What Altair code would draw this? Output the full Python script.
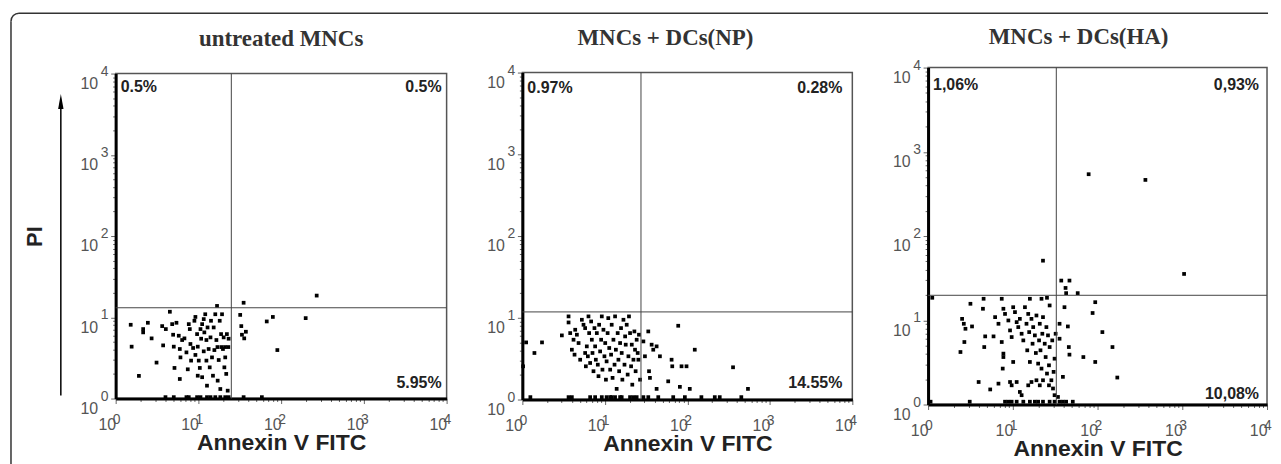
import altair as alt
import pandas as pd

titles = ["untreated MNCs", "MNCs + DCs(NP)", "MNCs + DCs(HA)"]
ul_pct = ["0.5%", "0.97%", "1,06%"]
ur_pct = ["0.5%", "0.28%", "0,93%"]
lr_pct = ["5.95%", "14.55%", "10,08%"]
gate_x = [25.0, 27.4, 32.6]
gate_y = [13.1, 11.8, 19.8]
decades = [1, 10, 100, 1000, 10000]
exponents = ["0", "1", "2", "3", "4"]
x_title = "Annexin V FITC"
y_title = "PI"

p1_points = [
    [1.52, 8.09], [1.56, 4.35], [1.91, 1.9], [2.15, 7.16], [2.15, 6.52], [2.45, 8.56], [2.72, 5.5],
    [3.12, 2.77], [3.65, 7.79], [3.75, 4.51], [4.04, 7.16], [4.52, 11.7], [4.82, 8.24], [4.95, 6.1],
    [5.04, 4.35], [5.14, 2.38], [5.43, 8.56], [5.79, 5.93], [5.96, 4.07], [6.07, 3.21], [5.96, 1.74],
    [6.36, 5.25], [6.78, 5.5], [7.17, 3.7], [7.44, 2.29], [7.65, 8.24], [7.87, 7.16], [8.01, 4.69],
    [8.16, 2.93], [8.63, 4.19], [8.95, 9.06], [9.2, 10.1], [9.2, 3.44], [9.64, 6.21], [9.82, 1.91],
    [9.82, 4.35], [10.1, 2.93], [10.4, 2.38], [10.6, 7.16], [10.8, 5.45], [11.1, 8.24], [11.1, 1.83],
    [11.6, 9.5], [11.6, 3.81], [11.8, 6.52], [12.1, 10.9], [12.5, 2.93], [12.5, 5.25], [12.7, 1.44],
    [12.9, 7.5], [13.3, 4.07], [13.7, 2.42], [14.0, 5.66], [14.2, 9.06], [14.6, 3.21], [15.0, 1.91],
    [15.3, 7.5], [15.6, 3.95], [16.0, 10.9], [16.5, 5.25], [16.8, 13.8], [17.1, 1.66], [17.6, 2.98],
    [18.1, 9.06], [18.4, 1.31], [18.8, 6.21], [19.3, 10.9], [19.8, 4.07], [20.2, 5.66], [20.6, 2.42],
    [21.1, 3.21], [21.7, 2.01], [22.1, 6.21], [22.6, 1.25], [23.2, 5.45], [17.0, 4.3], [19.0, 4.3],
    [21.0, 4.3], [23.0, 4.3], [32.0, 10.7], [33.0, 7.79], [33.6, 6.1], [35.2, 15.1], [35.8, 5.5],
    [37.5, 6.64], [67.0, 8.89], [79.4, 10.1], [90.0, 3.95], [198.0, 9.77], [269.0, 18.5],
    [4.0, 1.04], [5.04, 1.04], [7.17, 1.04], [7.65, 1.04], [9.64, 1.04], [10.6, 1.04], [12.7, 1.04],
    [14.0, 1.04], [16.0, 1.04], [18.4, 1.04], [21.1, 1.04], [23.2, 1.04], [35.2, 1.04], [58.5, 1.04],
]

p2_points = [
    [1.11, 5.0], [1.73, 5.0], [1.4, 3.71], [1.02, 2.55], [3.01, 6.09], [3.63, 10.4], [3.63, 8.77],
    [3.8, 6.5], [3.98, 4.07], [4.17, 5.39], [4.29, 3.54], [4.37, 7.14], [4.58, 6.21], [4.8, 4.91],
    [5.02, 3.07], [5.26, 9.46], [5.51, 8.22], [5.77, 7.48], [5.77, 3.71], [5.88, 2.55], [6.04, 4.47],
    [6.22, 3.38], [6.33, 10.4], [6.45, 6.5], [6.63, 2.8], [6.82, 9.02], [6.95, 5.39], [7.08, 3.71],
    [7.28, 2.22], [7.48, 7.48], [7.62, 4.47], [7.77, 3.07], [7.99, 6.5], [8.21, 2.67], [8.37, 1.93],
    [8.52, 8.22], [8.76, 3.88], [9.01, 5.39], [9.18, 10.4], [9.35, 2.32], [9.61, 7.14], [9.88, 3.38],
    [10.1, 4.91], [10.3, 1.75], [10.5, 2.93], [10.8, 6.5], [11.0, 9.91], [11.3, 4.27], [11.6, 2.32],
    [11.9, 3.54], [12.1, 8.22], [12.4, 1.84], [12.7, 5.39], [13.1, 2.67], [13.3, 10.4], [13.6, 4.07],
    [13.9, 1.35], [14.3, 6.5], [14.6, 3.07], [14.9, 2.22], [15.3, 4.91], [15.7, 7.48], [16.0, 3.71],
    [16.3, 1.75], [16.8, 9.46], [17.3, 2.67], [17.6, 5.92], [17.9, 4.69], [18.4, 8.22], [18.9, 2.02],
    [19.3, 3.38], [19.6, 10.4], [20.2, 6.5], [20.8, 2.55], [21.2, 4.69], [21.5, 1.52], [22.2, 3.07],
    [22.8, 6.81], [23.2, 4.07], [23.6, 2.22], [24.3, 5.39], [25.0, 3.71], [25.5, 3.07], [25.9, 6.21],
    [26.7, 1.75], [29.3, 5.14], [30.6, 3.38], [33.6, 6.81], [34.3, 2.22], [35.2, 1.84], [36.9, 4.69],
    [38.6, 4.07], [42.4, 4.47], [42.4, 1.35], [46.5, 3.38], [58.6, 1.67], [64.4, 3.07], [65.6, 2.55],
    [77.5, 7.99], [81.2, 1.43], [85.0, 2.55], [97.7, 2.55], [107.0, 1.35], [123.0, 4.07], [358.0, 2.48],
    [543.0, 1.35],
    [1.25, 1.07], [3.63, 1.07], [3.98, 1.07], [6.63, 1.07], [7.62, 1.07], [9.18, 1.07], [10.5, 1.07],
    [11.6, 1.07], [12.1, 1.07], [13.3, 1.07], [15.3, 1.07], [16.0, 1.07], [20.2, 1.07], [22.2, 1.07],
    [24.3, 1.07], [29.3, 1.07], [33.6, 1.07], [44.4, 1.07], [67.4, 1.07], [93.3, 1.07], [148.0, 1.07],
    [215.0, 1.07], [247.0, 1.07], [451.0, 1.07],
]

p3_points = [
    [37.3, 29.6], [46.6, 29.6], [41.9, 24.2], [42.6, 21.0], [58.3, 21.0], [78.5, 542.0], [367.0, 464.0],
    [22.7, 51.0], [1050.0, 35.5],
    [1.12, 18.5], [3.16, 15.7], [4.52, 18.0], [4.44, 13.7], [7.4, 18.0], [7.74, 13.7], [10.1, 14.3],
    [15.9, 18.0], [21.8, 18.0], [25.3, 18.5], [27.2, 15.0], [2.52, 10.4], [2.64, 9.09], [2.76, 7.93],
    [3.3, 8.45], [4.72, 6.44], [5.92, 6.44], [2.68, 5.52], [4.6, 4.81], [2.41, 4.2], [7.4, 5.52],
    [7.74, 4.02], [7.74, 3.66], [7.6, 2.67], [6.18, 10.9], [6.77, 9.09], [8.09, 11.9], [8.86, 9.95],
    [9.27, 7.58], [9.69, 6.32], [10.1, 3.2], [10.6, 12.5], [11.1, 9.51], [11.6, 8.3], [12.1, 10.4],
    [12.7, 6.92], [13.3, 5.77], [13.9, 14.3], [14.5, 9.09], [14.8, 4.4], [15.2, 11.9], [15.6, 7.24],
    [15.9, 3.2], [16.6, 10.4], [17.1, 5.27], [17.4, 8.3], [18.2, 6.62], [18.7, 4.09], [19.0, 11.4],
    [19.9, 3.06], [20.4, 5.77], [20.8, 9.09], [21.2, 4.4], [21.8, 2.67], [22.3, 6.92], [22.7, 10.9],
    [23.8, 5.27], [24.4, 3.66], [24.9, 8.3], [25.3, 2.33], [26.0, 6.62], [26.7, 2.92], [27.2, 4.81],
    [28.5, 1.94], [29.2, 5.77], [29.8, 1.55], [30.3, 2.44], [31.1, 3.5], [32.0, 6.92],
    [3.95, 1.85], [5.41, 1.51], [6.77, 1.77], [9.27, 1.85], [9.69, 1.69], [11.1, 1.85], [12.1, 1.41],
    [12.7, 1.29], [15.2, 1.69], [16.6, 1.85], [19.0, 1.94], [20.8, 1.69], [22.7, 1.94], [26.7, 1.69],
    [31.1, 1.29], [34.1, 1.23],
    [35.6, 9.09], [35.6, 6.04], [39.0, 2.13], [40.7, 14.3], [44.6, 8.45], [45.8, 4.81], [46.6, 3.91],
    [68.0, 3.66], [87.4, 12.2], [93.9, 16.4], [93.9, 3.2], [114.0, 7.24], [150.0, 4.81], [171.0, 2.09],
    [1.07, 1.08], [3.1, 1.08], [8.09, 1.08], [8.86, 1.08], [9.69, 1.08], [11.1, 1.08], [13.3, 1.08],
    [15.9, 1.08], [18.2, 1.08], [19.9, 1.08], [22.7, 1.08], [27.2, 1.08], [31.1, 1.08], [35.6, 1.08],
    [39.0, 1.08], [42.6, 1.08], [51.0, 1.08],
]

panel_points = [p1_points, p2_points, p3_points]

# layout / style (not data)
widths = [332, 331, 340]
heights = [326, 328, 338]
row_h = max(heights)
title_offsets = [14, 14, 10]
title_dx = [0, -22, -19]
ul_dy = [5, 7, 9]
ur_dx = [-5, -10, -8]
lr_dy = [-11, -12, -6]
SPACING = 76

ticks = [m * d for d in decades[:-1] for m in range(1, 10)] + [decades[-1]]
label_expr = "indexof([" + ",".join(str(d) for d in decades) + "], datum.value) >= 0 ? '10' : ''"
major_test = "indexof([" + ",".join(str(d) for d in decades) + "], datum.value) >= 0"

SANS = "Liberation Sans"
SERIF = "Liberation Serif"
LABEL_GREY = "#555555"

axis_common = dict(
    values=ticks,
    labelExpr=label_expr,
    labelFont=SANS,
    labelFontSize=16,
    labelColor=LABEL_GREY,
    tickColor="#666666",
    tickWidth=1,
    tickSize={"condition": {"test": major_test, "value": 5}, "value": 3},
    domainColor="#000000",
    domainWidth=3,
    grid=False,
    labelOverlap=False,
    labelFlush=False,
    titleFont=SANS,
    titleFontWeight="bold",
    titleColor="#222222",
)

exp_df = pd.DataFrame({"d": decades, "e": exponents})


def make_panel(i):
    df = pd.DataFrame(panel_points[i], columns=["x", "y"])
    yt = y_title if i == 0 else ""
    xscale = alt.Scale(type="log", domain=[1, 10000], nice=False)
    yscale = alt.Scale(type="log", domain=[1, 10000], nice=False)
    x_axis = alt.Axis(
        title=x_title, labelAlign="right", labelBaseline="top",
        labelPadding=13, labelOffset=0,
        titleFontSize=23, titlePadding=-1, **axis_common)
    y_axis = alt.Axis(
        title=yt, labelAlign="right",
        labelBaseline="top", labelPadding=13, labelOffset=2,
        titleFontSize=22, titlePadding=34, **axis_common)

    pts = alt.Chart(df).mark_square(size=14, color="black", opacity=1).encode(
        x=alt.X("x:Q", scale=xscale, axis=x_axis, title=x_title),
        y=alt.Y("y:Q", scale=yscale, axis=y_axis, title=yt),
    )
    # raised exponents of the decade tick labels (10^n)
    exp_txt = dict(font=SANS, fontSize=14, color=LABEL_GREY, align="left", baseline="top")
    y_exp = alt.Chart(exp_df).mark_text(dx=-15, dy=-9, **exp_txt).encode(
        x=alt.datum(1), y=alt.Y("d:Q", title=yt), text="e:N")
    x_exp = alt.Chart(exp_df).mark_text(dx=-3, dy=15, **exp_txt).encode(
        x=alt.X("d:Q", title=x_title), y=alt.datum(1), text="e:N")

    one = pd.DataFrame({"ul": [ul_pct[i]], "ur": [ur_pct[i]], "lr": [lr_pct[i]],
                        "gx": [gate_x[i]], "gy": [gate_y[i]]})
    vline = alt.Chart(one).mark_rule(color="#444444", strokeWidth=1).encode(
        x=alt.X("gx:Q", title=x_title))
    hline = alt.Chart(one).mark_rule(color="#444444", strokeWidth=1).encode(
        y=alt.Y("gy:Q", title=yt))
    txt = dict(font=SANS, fontSize=16, fontWeight="bold", color="#222222")
    t_ul = alt.Chart(one).mark_text(align="left", baseline="top", dx=5, dy=ul_dy[i], **txt).encode(
        x=alt.datum(1), y=alt.datum(10000), text="ul:N")
    t_ur = alt.Chart(one).mark_text(align="right", baseline="top", dx=ur_dx[i], dy=ul_dy[i], **txt).encode(
        x=alt.datum(10000), y=alt.datum(10000), text="ur:N")
    t_lr = alt.Chart(one).mark_text(align="right", baseline="alphabetic", dx=ur_dx[i], dy=lr_dy[i], **txt).encode(
        x=alt.datum(10000), y=alt.datum(1), text="lr:N")
    layers = [pts, vline, hline, t_ul, t_ur, t_lr, y_exp, x_exp]
    if i == 0:
        arrow = alt.Chart(one).mark_rule(color="black", strokeWidth=1.5).encode(
            x=alt.value(-55), y=alt.value(323), y2=alt.value(34))
        head = alt.Chart(one).mark_point(
            shape="M0,-1L0.36,1L-0.36,1Z", filled=True, size=225, color="black", opacity=1
        ).encode(x=alt.value(-55), y=alt.value(28))
        layers += [arrow, head]
    return alt.layer(*layers).properties(
        width=widths[i], height=heights[i],
        title=alt.TitleParams(
            text=titles[i], font=SERIF, fontSize=23, fontWeight="bold", color="#333333",
            offset=title_offsets[i], dx=title_dx[i], frame="group", anchor="middle"),
    )


# frame panel: rounded outer border, drawn in its own empty view
frame_df = pd.DataFrame({"k": [0]})
p1_left = 1 + SPACING                    # layout x of panel 1 inside the concat
p1_top = (row_h - heights[0]) / 2        # panel 1 is centred in the row
bx = p1_left - 105
by = p1_top - 60.5
rad = 8
b_top = alt.Chart(frame_df).mark_rule(color="#333333", strokeWidth=1.5).encode(
    x=alt.value(bx + rad), x2=alt.value(bx + 1261), y=alt.value(by))
b_left = alt.Chart(frame_df).mark_rule(color="#333333", strokeWidth=1.5).encode(
    x=alt.value(bx), y=alt.value(by + rad), y2=alt.value(by + 480))
b_corner = alt.Chart(frame_df).mark_arc(
    radius=rad + 0.75, radius2=rad - 0.75, theta=4.7124, theta2=6.2832, color="#333333"
).encode(x=alt.value(bx + rad), y=alt.value(by + rad))
frame_panel = alt.layer(b_top, b_left, b_corner).properties(
    width=1, height=row_h, view=alt.ViewBackground(strokeOpacity=0))

chart = alt.hconcat(
    frame_panel, make_panel(0), make_panel(1), make_panel(2),
    spacing=SPACING, bounds="flush", center=True
).properties(
    padding={"left": 2, "top": 3, "right": 0, "bottom": 0}
).configure_view(stroke="#555555", strokeWidth=1.5)

chart.save("out.html", embed_options={"renderer": "svg", "actions": False})
